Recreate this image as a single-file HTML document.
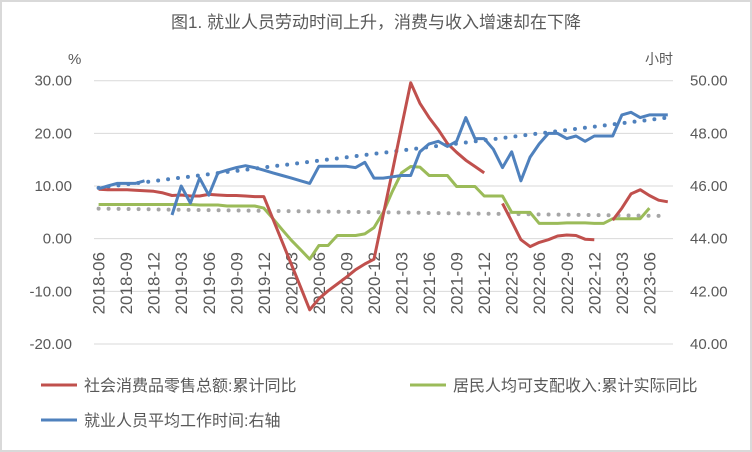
<!DOCTYPE html>
<html><head><meta charset="utf-8">
<style>
html,body{margin:0;padding:0;background:#fff;}
svg{display:block;font-family:"Liberation Sans","Noto Sans CJK SC",sans-serif;}
</style></head>
<body>
<svg id="chart" width="752" height="452" viewBox="0 0 752 452">
<rect x="1" y="1" width="750" height="450" fill="#fff" stroke="#d9d9d9" stroke-width="2"/>
<text x="376" y="28" text-anchor="middle" font-size="17" fill="#595959">图1. 就业人员劳动时间上升，消费与收入增速却在下降</text>
<text x="68" y="64" font-size="15" fill="#595959">%</text>
<text x="645" y="64" font-size="14" fill="#595959">小时</text>
<g id="grid"></g><g id="xlabels"></g><g id="series"></g>
<g>
<line x1="41" y1="385" x2="77" y2="385" stroke="#c0504d" stroke-width="3"/>
<text x="84" y="391" font-size="16" fill="#595959">社会消费品零售总额:累计同比</text>
<line x1="410" y1="385" x2="446" y2="385" stroke="#9bbb59" stroke-width="3"/>
<text x="453" y="391" font-size="16" fill="#595959">居民人均可支配收入:累计实际同比</text>
<line x1="41" y1="420" x2="77" y2="420" stroke="#4f81bd" stroke-width="3"/>
<text x="84" y="426" font-size="16" fill="#595959">就业人员平均工作时间:右轴</text>
</g>
</svg>
<script>
const leftTicks=["30.00","20.00","10.00","0.00","-10.00","-20.00"];
const rightTicks=["50.00","48.00","46.00","44.00","42.00","40.00"];
const xTickLabels=["2018-06","2018-09","2018-12","2019-03","2019-06","2019-09","2019-12","2020-03","2020-06","2020-09","2020-12","2021-03","2021-06","2021-09","2021-12","2022-03","2022-06","2022-09","2022-12","2023-03","2023-06"];
const retail=[9.4,9.3,9.3,9.3,9.2,9.1,9.0,8.7,8.2,8.3,8.1,8.1,8.4,8.3,8.2,8.2,8.1,8.0,8.0,3.7,-0.6,-4.9,-9.2,-13.5,-11.4,-9.9,-8.6,-7.3,-5.9,-4.8,-3.9,4.5,12.8,21.2,29.6,25.7,23.0,20.7,18.1,16.4,14.9,13.7,12.5,null,6.7,3.3,-0.2,-1.5,-0.7,-0.2,0.5,0.7,0.6,-0.1,-0.2,null,3.5,5.8,8.5,9.3,8.2,7.3,7.0];
const income=[6.5,6.5,6.5,6.5,6.5,6.5,6.5,6.5,6.5,6.5,6.5,6.4,6.4,6.4,6.2,6.2,6.2,6.2,5.8,3.8,1.7,-0.3,-2.1,-3.9,-1.3,-1.3,0.6,0.6,0.6,0.9,2.1,5.0,9.0,12.5,13.7,13.6,12.0,12.0,12.0,9.9,9.9,9.9,8.1,8.1,8.1,5.0,5.0,5.0,2.9,2.9,2.9,3.0,3.0,3.0,2.9,2.9,3.8,3.8,3.8,3.8,5.8,null,null];
const hours=[45.9,46.0,46.1,46.1,46.1,46.2,null,null,44.9,46.0,45.35,46.3,45.65,46.5,46.6,46.7,46.77,46.7,46.6,46.5,46.4,46.3,46.2,46.1,46.75,46.75,46.75,46.75,46.7,46.9,46.3,46.3,46.35,46.4,46.4,47.3,47.6,47.7,47.5,47.7,48.6,47.8,47.8,47.4,46.7,47.3,46.2,47.1,47.6,48.0,48.0,47.8,47.9,47.7,47.9,47.9,47.9,48.7,48.8,48.6,48.7,48.7,48.7];
const hoursTrend=[45.93,48.6];
const retailTrend=[5.7,4.3];

const NS="http://www.w3.org/2000/svg";
const X0=98.6, XS=9.18, PL=94, PR=673, YT=80.7, YB=344;
const yL=v=>YT+(30-v)*(YB-YT)/50;
const yR=v=>YT+(50-v)*(YB-YT)/10;
const xI=i=>X0+i*XS;
function mk(tag,attrs,parent){const e=document.createElementNS(NS,tag);for(const k in attrs)e.setAttribute(k,attrs[k]);parent.appendChild(e);return e;}
const grid=document.getElementById('grid');
leftTicks.forEach((t,k)=>{
  const v=parseFloat(t), y=yL(v);
  const g=mk('line',{x1:PL,x2:PR,y1:y,y2:y,stroke:'#d9d9d9','stroke-width':1},grid);
  
  
  const tx=mk('text',{x:72,y:y+5,'text-anchor':'end','font-size':15,fill:'#595959'},grid);
  tx.textContent=t;
  
  
});
rightTicks.forEach(t=>{
  const y=yR(parseFloat(t));
  const tx=mk('text',{x:690,y:y+5,'font-size':15,fill:'#595959'},grid);
  tx.textContent=t;
  
  
});
const xl=document.getElementById('xlabels');
xTickLabels.forEach((t,k)=>{
  const x=xI(k*3)+6, y=252;
  const tx=mk('text',{x:x,y:y,'text-anchor':'end','font-size':17,fill:'#595959',transform:`rotate(-90 ${x} ${y})`},xl);
  tx.textContent=t;
  
  
});
const ser=document.getElementById('series');
function trend(vals,fy,color,name){
  const p=mk('line',{x1:xI(0),y1:fy(vals[0]),x2:xI(62),y2:fy(vals[1]),stroke:color,'stroke-width':4,'stroke-linecap':'round','stroke-dasharray':'0 10'},ser);
  
  
}
function series(vals,fy,color,name){
  let d='',pen=false;
  vals.forEach((v,i)=>{ if(v===null){pen=false;return;} d+=(pen?'L':'M')+xI(i).toFixed(1)+' '+fy(v).toFixed(1)+' '; pen=true;});
  const p=mk('path',{d:d,fill:'none',stroke:color,'stroke-width':3,'stroke-linejoin':'round'},ser);
  
  
}
trend(retailTrend,yL,'#a6a6a6','retail-trendline');
trend(hoursTrend,yR,'#4f81bd','hours-trendline');
series(income,yL,'#9bbb59','income-line');
series(retail,yL,'#c0504d','retail-line');
series(hours,yR,'#4f81bd','hours-line');
</script>
</body></html>
